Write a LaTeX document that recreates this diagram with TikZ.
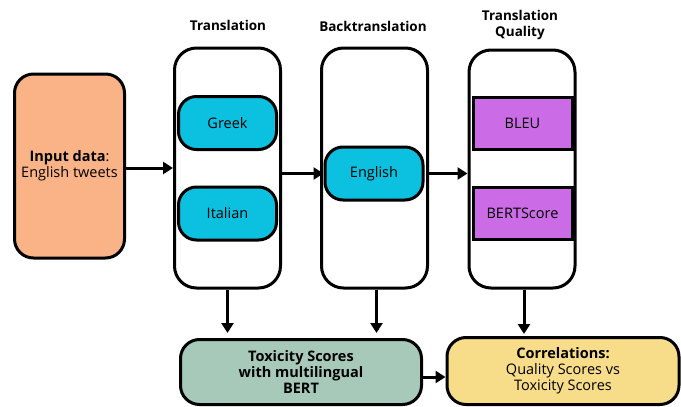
\documentclass[tikz,border=0pt]{standalone}
\usepackage{fontspec}
\setmainfont{Open Sans}
\usetikzlibrary{arrows.meta,positioning}
\definecolor{salmon}{HTML}{F9B386}
\definecolor{langcyan}{HTML}{0CC0DF}
\definecolor{metricpurple}{HTML}{CB6CE6}
\definecolor{toxgreen}{HTML}{A7C9BA}
\definecolor{corryellow}{HTML}{F7DC8A}
\tikzset{
	column/.style = {draw, line width = 3pt, rounded corners = 22pt, minimum width = 106pt, minimum height = 240pt},
	lang/.style = {draw, fill = langcyan, line width = 3pt, rounded corners = 18pt, minimum width = 98pt, minimum height = 53pt, font = \fontsize{14.5}{16}\selectfont},
	metric/.style = {draw, fill = metricpurple, line width = 3pt, minimum width = 99pt, minimum height = 52pt, font = \fontsize{14.5}{16}\selectfont},
	header/.style = {font = \bfseries\fontsize{13.5}{16}\selectfont, align = center},
	result/.style = {draw, line width = 3pt, rounded corners = 19pt, align = center, font = \fontsize{14.5}{16}\selectfont},
	flow/.style = {line width = 3pt, -{Triangle[length = 10pt, width = 12pt]}}
}
\begin{document}
\begin{tikzpicture}[x = 1pt, y = -1pt]
	\useasboundingbox (0, 0) rectangle (681, 407);
	% input
	\node[result, fill = salmon, minimum width = 110pt, minimum height = 184pt] (input) at (69.5, 166) {\textbf{Input data}:\\English tweets};
	% three columns
	\node[column] (trans) at (227.5, 168) {};
	\node[column] (back) at (374.5, 168) {};
	\node[column, minimum height = 238pt] (qual) at (522, 169) {};
	\node[header] (transhead) at (228, 25) {Translation};
	\node[header] (backhead) at (373, 26) {Backtranslation};
	\node[header] (qualhead) at (520, 25) {Translation\\Quality};
	% inner boxes
	\node[lang] (greek) at (227.5, 123) {Greek};
	\node[lang] (italian) at (227.5, 213.5) {Italian};
	\node[lang] (english) at (374, 173.5) {English};
	\node[metric] (bleu) at (522.5, 123) {BLEU};
	\node[metric] (bertscore) at (522.5, 213) {BERTScore};
	% bottom row
	\node[result, fill = toxgreen, font = \bfseries\fontsize{14.5}{16}\selectfont, minimum width = 241pt, minimum height = 65pt] (tox) at (301, 372) {Toxicity Scores\\with multilingual\\BERT};
	\node[result, fill = corryellow, minimum width = 232pt, minimum height = 67pt] (corr) at (563, 371) {\textbf{Correlations:}\\Quality Scores vs\\Toxicity Scores};
	% arrows
	\draw[flow] (input.east |- trans.west) -- (trans.west);
	\draw[flow] (trans.east |- english) -- (english.west);
	\draw[flow] (back.east |- english) -- (qual.west |- english);
	\draw[flow, shorten > = 5pt] (trans.south) -- (trans.south |- tox.north);
	\draw[flow, shorten > = 5pt] ([xshift = 2pt]back.south) -- ([xshift = 2pt]back.south |- tox.north);
	\draw[flow, shorten > = 2pt] ([xshift = 2pt]qual.south) -- ([xshift = 2pt]qual.south |- corr.north);
	\draw[flow] ([yshift = -5pt]tox.east) -- ([yshift = -6pt]corr.west);
\end{tikzpicture}
\end{document}
